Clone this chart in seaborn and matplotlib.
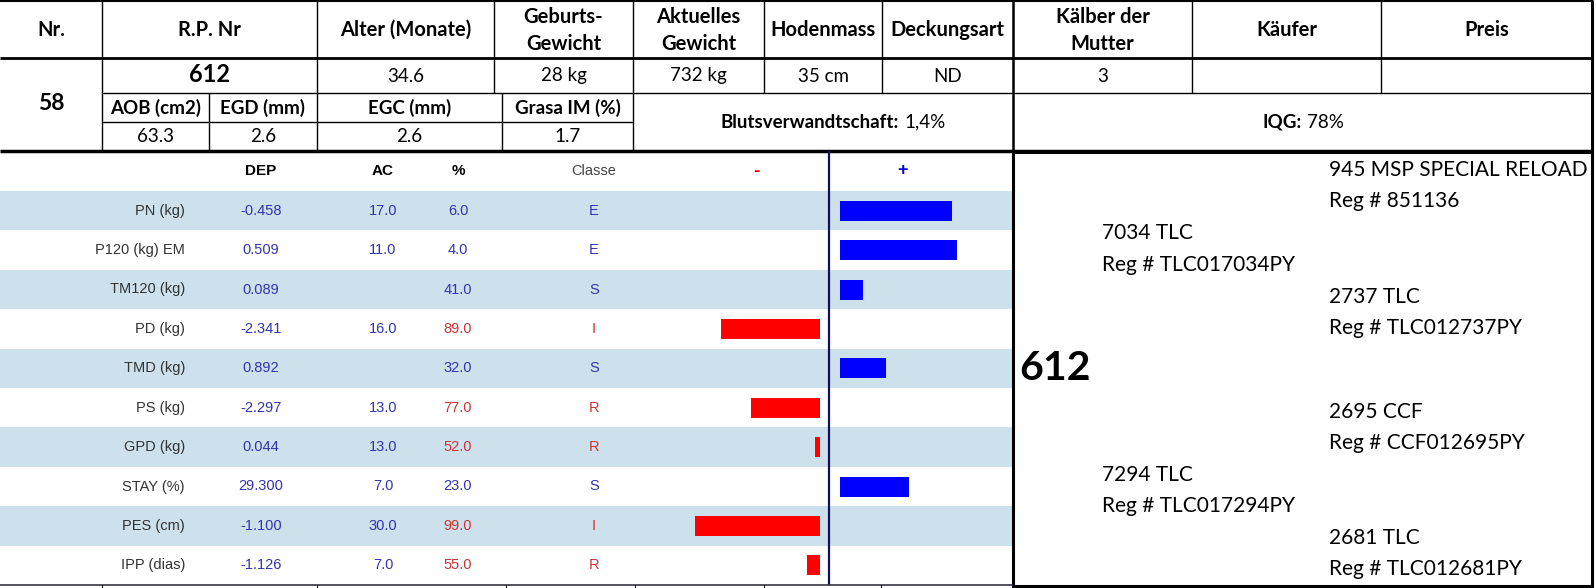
import matplotlib
matplotlib.use("Agg")
import matplotlib.pyplot as plt
import seaborn as sns
import numpy as np
import pandas as pd

# ---------------- data ----------------
header_cols = ['Nr.', 'R.P. Nr', 'Alter (Monate)', 'Geburts-\nGewicht', 'Aktuelles\nGewicht',
               'Hodenmass', 'Deckungsart', 'Kälber der\nMutter', 'Käufer', 'Preis']
animal_nr = '58'
animal_rp = '612'
row_values = ['34.6', '28 kg', '732 kg', '35 cm', 'ND', '3', '', '']
carcass_labels = ['AOB (cm2)', 'EGD (mm)', 'EGC (mm)', 'Grasa IM (%)']
carcass_values = [63.3, 2.6, 2.6, 1.7]
blut_value = '1,4%'
iqg_value = '78%'

traits = ['PN (kg)', 'P120 (kg) EM', 'TM120 (kg)', 'PD (kg)', 'TMD (kg)',
          'PS (kg)', 'GPD (kg)', 'STAY (%)', 'PES (cm)', 'IPP (dias)']
dep = [-0.458, 0.509, 0.089, -2.341, 0.892, -2.297, 0.044, 29.300, -1.100, -1.126]
ac = [17.0, 11.0, None, 16.0, None, 13.0, 13.0, 7.0, 30.0, 7.0]
pct = [6.0, 4.0, 41.0, 89.0, 32.0, 77.0, 52.0, 23.0, 99.0, 55.0]
classe = ['E', 'E', 'S', 'I', 'S', 'R', 'R', 'S', 'I', 'R']
bar_score = [44, 46, 9, -39, 18, -27, -2, 27, -49, -5]

ped_name = '612'
sire = ('7034 TLC', 'TLC017034PY')
dam = ('7294 TLC', 'TLC017294PY')
grand = [('945 MSP SPECIAL RELOAD', '851136'), ('2737 TLC', 'TLC012737PY'),
         ('2695 CCF', 'CCF012695PY'), ('2681 TLC', 'TLC012681PY')]

# ---------------- figure ----------------
W, H = 1596, 588
fig = plt.figure(figsize=(W / 100, H / 100), dpi=100)
fig.patch.set_facecolor('white')
ax0 = fig.add_axes([0, 0, 1, 1])
ax0.set_xlim(0, W)
ax0.set_ylim(H, 0)
ax0.axis('off')

HF = 'Lato'
TF = 'Liberation Sans'

def hline(y, x0, x1, lw=0.9, c='black'):
    ax0.plot([x0, x1], [y, y], color=c, lw=lw, solid_capstyle='butt', zorder=3)

def vline(x, y0, y1, lw=0.9, c='black'):
    ax0.plot([x, x], [y0, y1], color=c, lw=lw, solid_capstyle='butt', zorder=3)

# header table geometry
cols = [0, 102, 317, 494, 633, 764, 882, 1013, 1192, 1381, 1592]
sub_cols = [102, 209, 317, 502, 633]
y_h, y_r2, y_r3, y_bot = 58, 93, 122, 151

# header labels
for i, lab in enumerate(header_cols):
    cx = (cols[i] + cols[i + 1]) / 2
    parts = lab.split('\n')
    if len(parts) == 1:
        ax0.text(cx, 30, parts[0], ha='center', va='center', fontsize=14.5,
                 fontweight='bold', family=HF)
    else:
        ax0.text(cx, 17, parts[0], ha='center', va='center', fontsize=14.5,
                 fontweight='bold', family=HF)
        ax0.text(cx, 44, parts[1], ha='center', va='center', fontsize=14.5,
                 fontweight='bold', family=HF)

# row 2
ax0.text((cols[0] + cols[1]) / 2, 104, animal_nr, ha='center', va='center',
         fontsize=16.5, fontweight='bold', family=HF)
ax0.text((cols[1] + cols[2]) / 2, 75, animal_rp, ha='center', va='center',
         fontsize=17, fontweight='bold', family=HF)
for i, v in enumerate(row_values):
    cx = (cols[i + 2] + cols[i + 3]) / 2
    ax0.text(cx, 76, v, ha='center', va='center', fontsize=13.5, family=HF)

# rows 3/4
for i, (lab, val) in enumerate(zip(carcass_labels, carcass_values)):
    cx = (sub_cols[i] + sub_cols[i + 1]) / 2
    ax0.text(cx, 107.5, lab, ha='center', va='center', fontsize=13.5,
             fontweight='bold', family=HF)
    ax0.text(cx, 137, f'{val:.1f}', ha='center', va='center', fontsize=13.5, family=HF)

ax0.text(899, 122, 'Blutsverwandtschaft:', ha='right', va='center', fontsize=13.5,
         fontweight='bold', family=HF)
ax0.text(904, 122, blut_value, ha='left', va='center', fontsize=13.5, family=HF)
ax0.text(1302, 122, 'IQG:', ha='right', va='center', fontsize=13.5,
         fontweight='bold', family=HF)
ax0.text(1307, 122, iqg_value, ha='left', va='center', fontsize=13.5, family=HF)

# header lines
hline(1, 0, 1593, lw=1.5)
hline(y_h, 0, 1593, lw=2.0)
hline(y_r2, 102, 1593, lw=1.0)
hline(y_r3, 102, 633, lw=1.0)
hline(y_bot, 0, 1593, lw=2.5)
for x in cols[1:-1]:
    lw = 1.8 if x == 1013 else 1.0
    vline(x, 0, y_r2, lw=lw)
vline(1592, 0, y_bot, lw=2.2)
vline(102, y_r2, y_bot, lw=1.0)
for x in sub_cols[1:]:
    vline(x, y_r2, y_bot, lw=1.0)
vline(1013, y_r2, y_bot, lw=1.8)

# ---------------- lower-left table ----------------
row_top = 191.0
row_h = 39.4
n = len(traits)
stripe = '#cde1ec'
for i in range(n):
    if i % 2 == 0:
        ax0.add_patch(plt.Rectangle((0, row_top + i * row_h), 1013, row_h,
                                    facecolor=stripe, edgecolor='none', zorder=0))

hdr_y = 171
ax0.text(261, hdr_y, 'DEP', ha='center', va='center', fontsize=11, fontweight='bold', family=TF)
ax0.text(383, hdr_y, 'AC', ha='center', va='center', fontsize=11, fontweight='bold', family=TF)
ax0.text(458, hdr_y, '%', ha='center', va='center', fontsize=11, fontweight='bold', family=TF)
ax0.text(594, hdr_y, 'Classe', ha='center', va='center', fontsize=10.5, color='#444444', family=TF)
ax0.text(757, hdr_y, '-', ha='center', va='center', fontsize=14, fontweight='bold',
         color='#ee0000', family=TF)
ax0.text(903, hdr_y, '+', ha='center', va='center', fontsize=13, fontweight='bold',
         color='#0000cc', family=TF)

blue_t = '#3333b0'
red_t = '#cc3333'
for i in range(n):
    cy = row_top + (i + 0.5) * row_h
    ccol = red_t if classe[i] in ('I', 'R') else blue_t
    ax0.text(185, cy, traits[i], ha='right', va='center', fontsize=10.5,
             color='#333333', family=TF)
    ax0.text(261, cy, f'{dep[i]:.3f}', ha='center', va='center', fontsize=10.5,
             color=blue_t, family=TF)
    if ac[i] is not None:
        ax0.text(383, cy, f'{ac[i]:.1f}', ha='center', va='center', fontsize=10.5,
                 color=blue_t, family=TF)
    ax0.text(458, cy, f'{pct[i]:.1f}', ha='center', va='center', fontsize=10.5,
             color=ccol, family=TF)
    ax0.text(594, cy, classe[i], ha='center', va='center', fontsize=10.5,
             color=ccol, family=TF)

# center axis line
vline(829, y_bot, 585, lw=1.6, c='#10105e')
# bottom line & ticks
hline(585, 0, 1013, lw=1.2, c='#333344')
for x in [102, 317, 506, 635, 764, 881]:
    vline(x, 585, 588, lw=0.8)

# ---------------- bars (seaborn) ----------------
df = pd.DataFrame({'trait': traits, 'score': bar_score})
df['pos'] = df['score'].clip(lower=0)
df['neg'] = df['score'].clip(upper=0)

scale = 2.55  # px per unit
bar_top, bar_bot = row_top, row_top + n * row_h
pos_left, pos_max = 840, 66
neg_right, neg_max = 820, 60

def fig_rect(x0, x1, y0, y1):
    return [x0 / W, (H - y1) / H, (x1 - x0) / W, (y1 - y0) / H]

axR = fig.add_axes(fig_rect(pos_left, pos_left + pos_max * scale, bar_top, bar_bot))
axL = fig.add_axes(fig_rect(neg_right - neg_max * scale, neg_right, bar_top, bar_bot))
for a in (axR, axL):
    a.set_facecolor('none')
    a.set_zorder(2)

bw = 20 / row_h
sns.barplot(data=df, x='pos', y='trait', orient='h', ax=axR, color='#0000ff',
            width=bw, errorbar=None, saturation=1, linewidth=0)
sns.barplot(data=df, x='neg', y='trait', orient='h', ax=axL, color='#ff0000',
            width=bw, errorbar=None, saturation=1, linewidth=0)
axR.set_xlim(0, pos_max)
axL.set_xlim(-neg_max, 0)
for a in (axR, axL):
    a.set_ylim(n - 0.5, -0.5)
    a.axis('off')

# ---------------- pedigree ----------------
px0, px1, py0, py1 = 1013, 1592, 152, 586
ax0.add_patch(plt.Rectangle((px0, py0), px1 - px0, py1 - py0, facecolor='white',
                            edgecolor='black', lw=2.2, zorder=1))
ax0.text(1019, 368, ped_name, ha='left', va='center', fontsize=29.5,
         fontweight='bold', family=HF, zorder=4)
PF = 15
sx, gx = 1102, 1329
ax0.text(sx, 233, sire[0], ha='left', va='center', fontsize=PF, family=HF, zorder=4)
ax0.text(sx, 265, 'Reg # ' + sire[1], ha='left', va='center', fontsize=PF, family=HF, zorder=4)
ax0.text(sx, 475, dam[0], ha='left', va='center', fontsize=PF, family=HF, zorder=4)
ax0.text(sx, 506, 'Reg # ' + dam[1], ha='left', va='center', fontsize=PF, family=HF, zorder=4)
gy = [170, 297, 412, 538]
for (nm, reg), y in zip(grand, gy):
    ax0.text(gx, y, nm, ha='left', va='center', fontsize=PF, family=HF, zorder=4)
    ax0.text(gx, y + 31, 'Reg # ' + reg, ha='left', va='center', fontsize=PF, family=HF, zorder=4)

fig.savefig('out.png', dpi=100, facecolor='white')
